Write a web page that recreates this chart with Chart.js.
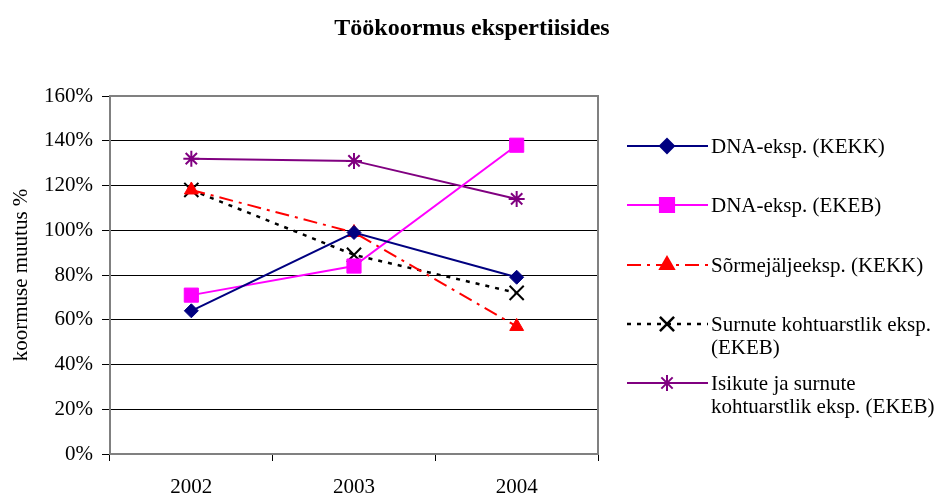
<!DOCTYPE html>
<html>
<head>
<meta charset="utf-8">
<script src="https://cdn.jsdelivr.net/npm/chart.js@4.4.0/dist/chart.umd.min.js"></script>
<style>
  html, body { margin: 0; padding: 0; background: #fff; }
  #wrap { width: 940px; height: 494px; }
</style>
</head>
<body>
<div id="wrap"><canvas id="chart" width="940" height="494"></canvas></div>
<script>
// Data
const years = ['2002', '2003', '2004'];
const dnaKekk = [64, 99, 79];
const dnaEkeb = [71, 84, 138];
const sormKekk = [118, 99, 57];
const surnuteEkeb = [118, 89, 72];
const isikuteEkeb = [132, 131, 114];
const seriesLabels = [
    ['DNA-eksp. (KEKK)'],
    ['DNA-eksp. (EKEB)'],
    ['Sõrmejäljeeksp. (KEKK)'],
    ['Surnute kohtuarstlik eksp.', '(EKEB)'],
    ['Isikute ja surnute', 'kohtuarstlik eksp. (EKEB)']
];
const chartTitle = 'Töökoormus ekspertiisides';

const serif = "'Liberation Serif', 'Times New Roman', serif";

// title centred on the whole page, not just the plot
const pageTitle = {
    id: 'pageTitle',
    afterDraw(chart) {
        const ctx = chart.ctx;
        ctx.save();
        ctx.fillStyle = '#000';
        ctx.font = 'bold 24px ' + serif;
        ctx.textAlign = 'center';
        ctx.textBaseline = 'middle';
        ctx.fillText(chartTitle, 472, 29);
        ctx.restore();
    }
};

// legend drawn on the canvas so labels can wrap like the original
const sideLegend = {
    id: 'sideLegend',
    afterDraw(chart) {
        const ctx = chart.ctx;
        const rows = [146, 205, 265, 324, 383];
        chart.data.datasets.forEach((ds, i) => {
            const y = rows[i];
            ctx.save();
            ctx.strokeStyle = ds.borderColor;
            ctx.lineWidth = ds.borderWidth;
            ctx.setLineDash(ds.borderDash || []);
            ctx.beginPath();
            ctx.moveTo(627, y);
            ctx.lineTo(708, y);
            ctx.stroke();
            ctx.setLineDash([]);
            ctx.fillStyle = ds.pointBackgroundColor;
            ctx.strokeStyle = ds.pointBorderColor;
            Chart.helpers.drawPoint(ctx, {
                pointStyle: ds.pointStyle,
                radius: ds.pointRadius,
                rotation: 0,
                borderWidth: ds.pointBorderWidth
            }, 667, y);
            ctx.fillStyle = '#000';
            ctx.font = '21px ' + serif;
            ctx.textBaseline = 'middle';
            ds.label.forEach((line, j) => ctx.fillText(line, 711, y + 1 + j * 23));
            ctx.restore();
        });
    }
};

const plotBorder = {
    id: 'plotBorder',
    beforeDatasetsDraw(chart) {
        const a = chart.chartArea;
        const ctx = chart.ctx;
        ctx.save();
        ctx.strokeStyle = '#808080';
        ctx.lineWidth = 2;
        ctx.strokeRect(a.left, a.top, a.right - a.left, a.bottom - a.top);
        ctx.restore();
    }
};

new Chart(document.getElementById('chart'), {
    type: 'line',
    data: {
        labels: years,
        datasets: [
            {
                label: seriesLabels[0], data: dnaKekk,
                borderColor: '#000080', borderWidth: 2,
                pointStyle: 'rectRot', pointRadius: 7,
                pointBackgroundColor: '#000080', pointBorderColor: '#000080', pointBorderWidth: 1
            },
            {
                label: seriesLabels[1], data: dnaEkeb,
                borderColor: '#ff00ff', borderWidth: 2,
                pointStyle: 'rect', pointRadius: 10,
                pointBackgroundColor: '#ff00ff', pointBorderColor: '#ff00ff', pointBorderWidth: 1
            },
            {
                label: seriesLabels[2], data: sormKekk,
                borderColor: '#ff0000', borderWidth: 2, borderDash: [14, 6, 3, 6],
                pointStyle: 'triangle', pointRadius: 8,
                pointBackgroundColor: '#ff0000', pointBorderColor: '#ff0000', pointBorderWidth: 1
            },
            {
                label: seriesLabels[3], data: surnuteEkeb,
                borderColor: '#000000', borderWidth: 2.5, borderDash: [4, 6],
                pointStyle: 'crossRot', pointRadius: 10,
                pointBackgroundColor: '#000000', pointBorderColor: '#000000', pointBorderWidth: 2
            },
            {
                label: seriesLabels[4], data: isikuteEkeb,
                borderColor: '#800080', borderWidth: 2,
                pointStyle: 'star', pointRadius: 8,
                pointBackgroundColor: '#800080', pointBorderColor: '#800080', pointBorderWidth: 2
            }
        ]
    },
    options: {
        responsive: false,
        devicePixelRatio: 1,
        animation: false,
        tension: 0,
        layout: { padding: { left: 0, right: 342, top: 96, bottom: 0 } },
        scales: {
            x: {
                offset: true,
                grid: { display: true, drawOnChartArea: false, offset: true, color: '#000', tickLength: 7 },
                border: { display: false },
                ticks: { color: '#000', font: { family: serif, size: 21 }, padding: 14 },
                afterFit(scale) { scale.height = 40; }
            },
            y: {
                min: 0, max: 160,
                grid: { color: '#000', lineWidth: 1, tickLength: 8 },
                border: { color: '#000', width: 1 },
                ticks: {
                    stepSize: 20, color: '#000', padding: 9,
                    font: { family: serif, size: 21 },
                    callback: v => v + '%'
                },
                title: {
                    display: true, text: 'koormuse muutus %', color: '#000',
                    font: { family: serif, size: 21 }, padding: { top: 9, bottom: 0 }
                },
                afterFit(scale) { scale.width = 110; }
            }
        },
        plugins: {
            legend: { display: false },
            tooltip: { enabled: false },
            title: { display: false }
        }
    },
    plugins: [plotBorder, sideLegend, pageTitle]
});
</script>
</body>
</html>
